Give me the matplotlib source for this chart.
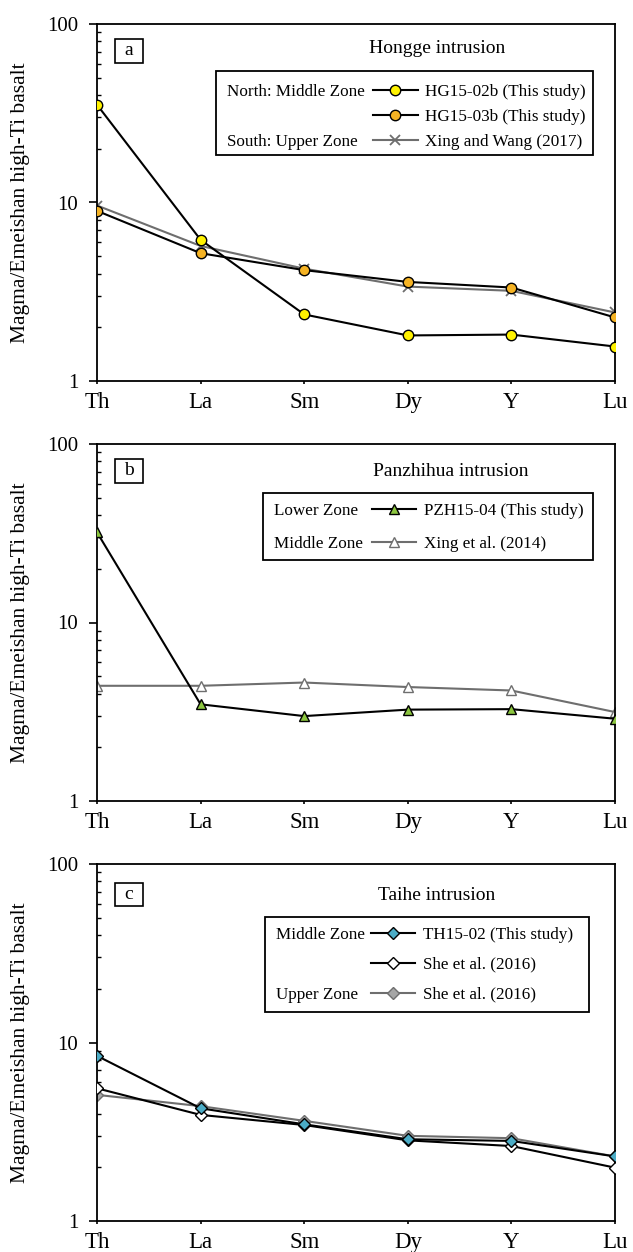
import numpy as np
import matplotlib
matplotlib.use("Agg")
from matplotlib import pyplot as plt
from matplotlib.patches import Rectangle

plt.rcParams['font.family'] = ['Liberation Serif', 'DejaVu Serif']

elements = ['Th', 'La', 'Sm', 'Dy', 'Y', 'Lu']

# panel a - Hongge
hg02b = [35.3, 6.18, 2.36, 1.80, 1.82, 1.56]
hg03b = [8.98, 5.20, 4.18, 3.59, 3.34, 2.27]
xing_wang = [9.62, 5.71, 4.26, 3.38, 3.20, 2.42]

# panel b - Panzhihua
pzh04 = [32.0, 3.48, 2.99, 3.25, 3.27, 2.89]
xing2014 = [4.42, 4.42, 4.61, 4.35, 4.16, 3.15]

# panel c - Taihe
th02 = [8.42, 4.28, 3.48, 2.87, 2.81, 2.30]
she_mz = [5.54, 3.93, 3.45, 2.83, 2.63, 1.99]
she_uz = [5.09, 4.40, 3.64, 3.00, 2.91, 2.30]

W, H = 633, 1252
fig = plt.figure(figsize=(W / 100, H / 100), dpi=100)

x = np.arange(len(elements))
LEGFS = 12.3
GRAY = '#6E6E6E'


def frac(px_l, px_top, px_r, px_bot):
    return [px_l / W, 1 - px_bot / H, (px_r - px_l) / W, (px_bot - px_top) / H]


def setup(ax, letter, box_y, title, title_xy):
    ax.set_yscale('log')
    ax.set_ylim(1, 100)
    ax.set_xlim(0, 5)
    ax.set_xticks(x)
    ax.set_xticklabels(elements, fontsize=16.5)
    ax.set_yticks([1, 10, 100])
    ax.set_yticklabels(['1', '10', '100'], fontsize=15)
    ax.tick_params(axis='y', which='major', direction='out', length=5.5, width=1.2, pad=8)
    ax.tick_params(axis='y', which='minor', direction='in', length=3, width=1)
    ax.tick_params(axis='x', which='major', direction='out', length=2.5, width=1.2, pad=5.5)
    ax.minorticks_on()
    ax.tick_params(axis='x', which='minor', bottom=False)
    ax.set_ylabel('Magma/Emeishan high-Ti basalt', fontsize=15.5, labelpad=12)
    for s in ax.spines.values():
        s.set_linewidth(1.3)
    # panel letter in a small square box
    b0, b1 = box_y
    ax.add_patch(Rectangle((0.0347, b0), 0.0541, b1 - b0, transform=ax.transAxes,
                           fc='white', ec='black', lw=1.2, zorder=5))
    ax.text(0.0618, (b0 + b1) / 2, letter, transform=ax.transAxes, fontsize=14,
            ha='center', va='center', zorder=6)
    ax.text(title_xy[0], title_xy[1], title, transform=ax.transAxes,
            fontsize=14, ha='center', va='center')


def legend_box(ax, handles, labels, zones, box, anchor, spacing):
    x0, y0, x1, y1 = box
    ax.add_patch(Rectangle((x0, y0), x1 - x0, y1 - y0, transform=ax.transAxes,
                           fill=False, ec='black', lw=1.3, zorder=5))
    leg = ax.legend(handles, labels, loc='upper left', bbox_to_anchor=anchor,
                    frameon=False, fontsize=LEGFS, borderpad=0, borderaxespad=0,
                    handlelength=2.6, handletextpad=0.45, labelspacing=spacing)
    fig.canvas.draw()
    for t, z in zip(leg.get_texts(), zones):
        if z:
            bb = t.get_window_extent()
            yc = ax.transAxes.inverted().transform((0, (bb.y0 + bb.y1) / 2))[1]
            ax.text(x0 + 0.021, yc, z, transform=ax.transAxes, fontsize=LEGFS,
                    ha='left', va='center')


# ---- panel a
ax1 = fig.add_axes(frac(97, 24, 615, 381))
l1, = ax1.plot(x, hg02b, 'k-', lw=1.5, marker='o', ms=7.5, mfc='#FFF200', mec='black', mew=1, zorder=3)
l2, = ax1.plot(x, hg03b, 'k-', lw=1.5, marker='o', ms=7.5, mfc='#F5B324', mec='black', mew=1, zorder=3)
l3, = ax1.plot(x, xing_wang, '-', color=GRAY, lw=1.5, marker='x', ms=7, mec=GRAY, mew=1.3, zorder=2)
setup(ax1, 'a', (0.891, 0.958), 'Hongge intrusion', (0.656, 0.930))
legend_box(ax1, [l1, l2, l3],
           ['HG15-02b (This study)', 'HG15-03b (This study)', 'Xing and Wang (2017)'],
           ['North: Middle Zone', '', 'South: Upper Zone'],
           (0.2297, 0.633, 0.957, 0.868), (0.533, 0.831), 0.52)

# ---- panel b
ax2 = fig.add_axes(frac(97, 444, 615, 801))
m1, = ax2.plot(x, pzh04, 'k-', lw=1.5, marker='^', ms=7, mfc='#8CC63F', mec='black', mew=1, zorder=3)
m2, = ax2.plot(x, xing2014, '-', color=GRAY, lw=1.5, marker='^', ms=7, mfc='white', mec=GRAY, mew=1, zorder=2)
setup(ax2, 'b', (0.891, 0.958), 'Panzhihua intrusion', (0.682, 0.922))
legend_box(ax2, [m1, m2],
           ['PZH15-04 (This study)', 'Xing et al. (2014)'],
           ['Lower Zone', 'Middle Zone'],
           (0.320, 0.675, 0.957, 0.862), (0.530, 0.835), 1.0)

# ---- panel c
ax3 = fig.add_axes(frac(97, 864, 615, 1221))
n1, = ax3.plot(x, th02, 'k-', lw=1.5, marker='D', ms=6.5, mfc='#4BACC6', mec='black', mew=1, zorder=4)
n2, = ax3.plot(x, she_mz, 'k-', lw=1.5, marker='D', ms=6, mfc='white', mec='black', mew=1, zorder=3)
n3, = ax3.plot(x, she_uz, '-', color=GRAY, lw=1.5, marker='D', ms=6, mfc='#A6A6A6', mec=GRAY, mew=1, zorder=2)
setup(ax3, 'c', (0.882, 0.947), 'Taihe intrusion', (0.655, 0.911))
legend_box(ax3, [n1, n2, n3],
           ['TH15-02 (This study)', 'She et al. (2016)', 'She et al. (2016)'],
           ['Middle Zone', '', 'Upper Zone'],
           (0.3236, 0.585, 0.949, 0.8515), (0.529, 0.824), 0.82)

fig.savefig('out.png', dpi=100)
